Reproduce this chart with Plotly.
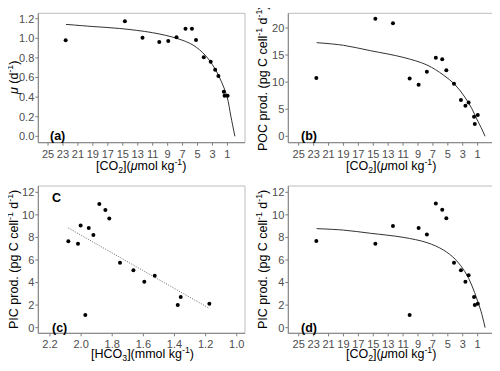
import plotly.graph_objects as go
from plotly.subplots import make_subplots

# measured points, CO2 (umol/kg) and HCO3 (mmol/kg)
co2 = [22.64, 14.72, 12.36, 10.12, 8.92, 7.81, 6.61, 5.75, 5.2, 4.17, 3.24, 2.64, 2.21, 1.48, 1.38, 0.98]
hco3 = [2.082, 2.003, 2.02, 1.951, 1.921, 1.973, 1.883, 1.844, 1.819, 1.75, 1.664, 1.594, 1.527, 1.379, 1.36, 1.176]
mu = [0.979, 1.173, 1.006, 0.962, 0.972, 1.01, 1.098, 1.098, 0.982, 0.806, 0.761, 0.68, 0.615, 0.455, 0.415, 0.415]
poc = [10.77, 21.72, 20.86, 10.65, 9.54, 11.94, 14.52, 14.22, 12.18, 9.72, 6.71, 5.66, 6.22, 3.63, 2.28, 3.94]
pic_c = [7.66, 9.05, 7.45, 8.84, 8.22, 1.12, 10.97, 10.43, 9.67, 5.76, 5.08, 4.08, 4.61, 2.01, 2.72, 2.13]
pic_d = [7.69, 7.45, 9.02, 1.12, 8.84, 8.25, 11.0, 10.46, 9.7, 5.76, 5.08, 4.08, 4.64, 2.72, 2.01, 2.13]

# fitted curves
fit_x = [22.6, 19.0, 15.4, 11.0, 7.8, 5.6, 4.0, 2.7, 1.8, 1.05, 0.53, 0.0]
fit_mu = [1.142, 1.12, 1.10, 1.057, 1.0, 0.931, 0.829, 0.694, 0.557, 0.404, 0.20, 0.0]
fit_poc = [17.29, 16.8, 15.81, 14.58, 13.17, 11.32, 9.48, 7.2, 5.17, 3.02, 1.6, 0.0]
fit_pic = [8.78, 8.65, 8.37, 8.01, 7.54, 6.89, 6.06, 4.96, 3.78, 2.45, 1.42, 0.0]
reg_x = [2.082, 1.176]
reg_y = [8.84, 1.71]

# tick values
co2_ticks = [25, 23, 21, 19, 17, 15, 13, 11, 9, 7, 5, 3, 1]
hco3_ticks = [2.2, 2.0, 1.8, 1.6, 1.4, 1.2, 1.0]
mu_ticks = [0, 0.2, 0.4, 0.6, 0.8, 1.0, 1.2]
poc_ticks = [0, 5, 10, 15, 20]
pic_ticks = [0, 2, 4, 6, 8, 10, 12]

FONT = "Liberation Sans, Arial, sans-serif"
TICKCOL = "#4d4d4d"
AXCOL = "#7f7f7f"
BOXCOL = "#bdbdbd"
W, H, OFF = 500, 371, 8  # page body has an 8px margin

def px(x):
    return (x - OFF) / W

def py(y):
    return 1 - (y - OFF) / H

fig = make_subplots(rows=2, cols=2)

def dots(x, y, r, c):
    fig.add_trace(go.Scatter(x=x, y=y, mode="markers", marker=dict(size=4, color="black"),
                             showlegend=False, hoverinfo="skip"), row=r, col=c)

def curve(x, y, r, c, dash="solid", color="#333333"):
    fig.add_trace(go.Scatter(x=x, y=y, mode="lines", line=dict(color=color, width=1, dash=dash, shape="spline"),
                             showlegend=False, hoverinfo="skip"), row=r, col=c)

curve(fit_x, fit_mu, 1, 1)
dots(co2, mu, 1, 1)
curve(fit_x, fit_poc, 1, 2)
dots(co2, poc, 1, 2)
curve(reg_x, reg_y, 2, 1, dash="1px,1.5px", color="#666666")
dots(hco3, pic_c, 2, 1)
curve(fit_x, fit_pic, 2, 2)
dots(co2, pic_d, 2, 2)

xdom = [[px(38.3), px(245)], [px(288.3), px(495)]]
ydom = [[py(142.7), py(13.3)], [py(333.3), py(186)]]

panels = [(1, 1, co2_ticks, mu_ticks), (1, 2, co2_ticks, poc_ticks),
          (2, 1, hco3_ticks, pic_ticks), (2, 2, co2_ticks, pic_ticks)]
tx = 3 / W
ty = 3 / H
for i, (r, c, xt, yt) in enumerate(panels, start=1):
    sx = "" if i == 1 else str(i)
    for ax in ("xaxis", "yaxis"):
        fig.layout[ax + sx].update(showline=False, showgrid=False, zeroline=False, automargin=False,
                                   ticks="", tickfont=dict(family=FONT, size=11, color=TICKCOL))
    x0, x1 = xdom[c - 1]
    y0, y1 = ydom[r - 1]
    # frame and axis lines in paper units
    fig.add_shape(type="rect", xref="paper", yref="paper", x0=x0, y0=y0, x1=x1, y1=y1,
                  line=dict(color=BOXCOL, width=1))
    fig.add_shape(type="line", xref="paper", yref="paper", x0=x0, y0=y0, x1=x0, y1=y1,
                  line=dict(color=AXCOL, width=1))
    fig.add_shape(type="line", xref="paper", yref="paper", x0=x0, y0=y0, x1=x1, y1=y0,
                  line=dict(color=AXCOL, width=1))
    # tick marks
    for v in xt:
        fig.add_shape(type="line", xref="x" + sx, yref="paper", x0=v, x1=v, y0=y0, y1=y0 - ty,
                      line=dict(color=AXCOL, width=1))
    for v in yt:
        fig.add_shape(type="line", xref="paper", yref="y" + sx, x0=x0, x1=x0 - tx, y0=v, y1=v,
                      line=dict(color=AXCOL, width=1))

fig.update_xaxes(domain=xdom[0], range=[26.3, -1.35], tickvals=co2_ticks, row=1, col=1)
fig.update_xaxes(domain=xdom[1], range=[26.4, -1.33], tickvals=co2_ticks, row=1, col=2)
fig.update_xaxes(domain=xdom[0], range=[2.275, 0.947], tickvals=hco3_ticks, tickformat=".1f", row=2, col=1)
fig.update_xaxes(domain=xdom[1], range=[26.4, -1.33], tickvals=co2_ticks, row=2, col=2)
fig.update_yaxes(domain=ydom[0], range=[-0.065, 1.255], tickvals=mu_ticks, tickformat=".1f", row=1, col=1)
fig.update_yaxes(domain=ydom[0], range=[-1.18, 22.71], tickvals=poc_ticks, row=1, col=2)
fig.update_yaxes(domain=ydom[1], range=[-0.5, 12.56], tickvals=pic_ticks, row=2, col=1)
fig.update_yaxes(domain=ydom[1], range=[-0.5, 12.56], tickvals=pic_ticks, row=2, col=2)
# keep the labels clear of the drawn tick marks
fig.update_xaxes(ticklabelstandoff=3)
fig.update_yaxes(ticklabelstandoff=3)

ann = []
tfont = dict(family=FONT, size=12.5, color="black")
co2_title = "[CO<sub>2</sub>](<i>μ</i>mol kg<sup>-1</sup>)"
for cx, ty_, txt in [(141, 165.5, co2_title), (391, 165.5, co2_title),
                     (142, 354, "[HCO<sub>3</sub>](mmol kg<sup>-1</sup>)"), (391, 354, co2_title)]:
    ann.append(dict(text=txt, x=px(cx), y=py(ty_), xref="paper", yref="paper", showarrow=False,
                    xanchor="center", yanchor="middle", font=tfont))
for cx, cy, txt in [(13, 78, "<i>μ</i> (d<sup>-1</sup>)"), (262, 78, "POC prod. (pg C cell<sup>-1</sup> d<sup>-1</sup>)"),
                    (13, 260, "PIC prod. (pg C cell<sup>-1</sup> d<sup>-1</sup>)"),
                    (262, 260, "PIC prod. (pg C cell<sup>-1</sup> d<sup>-1</sup>)")]:
    ann.append(dict(text=txt, x=px(cx), y=py(cy), xref="paper", yref="paper", showarrow=False,
                    xanchor="center", yanchor="middle", textangle=-90, font=tfont))
bfont = dict(family=FONT, size=12.5, color="black")
for xr, yr, x, y, txt in [("x", "y", 25, 0, "<b>(a)</b>"), ("x2", "y2", 25, 0, "<b>(b)</b>"),
                          ("x3", "y3", 2.2, 0, "<b>(c)</b>"), ("x4", "y4", 25, 0, "<b>(d)</b>"),
                          ("x3", "y3", 2.2, 11.5, "<b>C</b>")]:
    ann.append(dict(text=txt, x=x, y=y, xref=xr, yref=yr, showarrow=False, xanchor="left",
                    yanchor="middle", font=bfont))

fig.update_layout(width=W, height=H, margin=dict(l=0, r=0, t=0, b=0),
                  plot_bgcolor="white", paper_bgcolor="white", annotations=ann,
                  font=dict(family=FONT))

fig.write_html("out.html")
